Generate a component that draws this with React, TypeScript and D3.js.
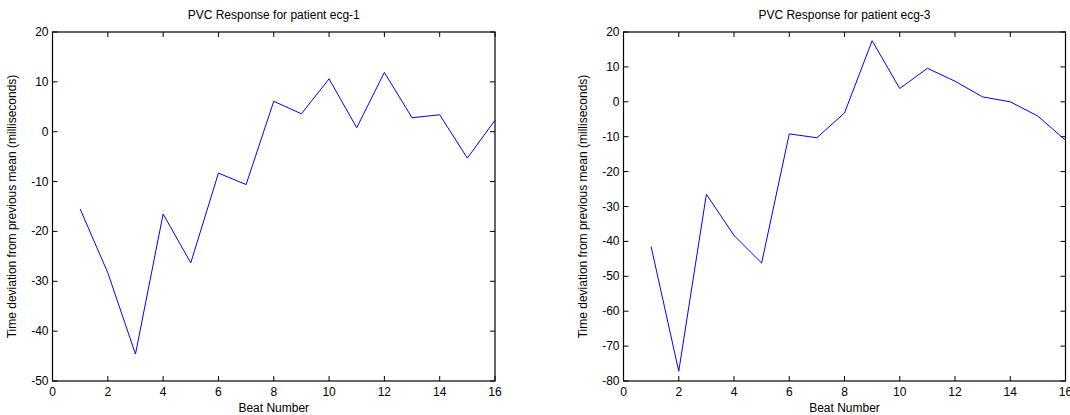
import React from "react";
import * as d3 from "d3";

const beats = [1, 2, 3, 4, 5, 6, 7, 8, 9, 10, 11, 12, 13, 14, 15, 16];
const ecg1 = [-15.5, -28.3, -44.6, -16.5, -26.3, -8.3, -10.6, 6.1, 3.6, 10.6, 0.8, 11.9, 2.8, 3.4, -5.3, 2.3];
const ecg3 = [-41.5, -77.2, -26.5, -38.3, -46.2, -9.2, -10.3, -3.2, 17.5, 3.8, 9.6, 5.9, 1.4, 0, -4.1, -11];
const xTicks = [0, 2, 4, 6, 8, 10, 12, 14, 16];
const yTicks1 = [-50, -40, -30, -20, -10, 0, 10, 20];
const yTicks3 = [-80, -70, -60, -50, -40, -30, -20, -10, 0, 10, 20];

const FONT = "Liberation Sans, Arial, sans-serif";

function Panel({ left, right, top, bottom, values, yDomain, yTicks, title }: any) {
  const x = d3.scaleLinear().domain([0, 16]).range([left, right]);
  const y = d3.scaleLinear().domain(yDomain).range([bottom, top]);
  const line = d3.line<number>().x((_, i) => x(beats[i])).y((d) => y(d));
  const tl = 5;
  const cx = (left + right) / 2;
  return (
    <g>
      <text x={cx} y={top - 13} textAnchor="middle" fontFamily={FONT} fontSize={12} fill="#000">{title}</text>
      <path d={line(values) || ""} fill="none" stroke="#0000ff" strokeWidth={1} />
      {xTicks.map((t) => (
        <g key={"x" + t}>
          <line x1={x(t)} x2={x(t)} y1={bottom} y2={bottom - tl} stroke="#000" />
          <line x1={x(t)} x2={x(t)} y1={top} y2={top + tl} stroke="#000" />
          <text x={x(t)} y={bottom + 15} textAnchor="middle" fontFamily={FONT} fontSize={12} fill="#000">{t}</text>
        </g>
      ))}
      {yTicks.map((t: number) => (
        <g key={"y" + t}>
          <line x1={left} x2={left + tl} y1={y(t)} y2={y(t)} stroke="#000" />
          <line x1={right} x2={right - tl} y1={y(t)} y2={y(t)} stroke="#000" />
          <text x={left - 4} y={y(t) + 4} textAnchor="end" fontFamily={FONT} fontSize={12} fill="#000">{t}</text>
        </g>
      ))}
      <rect x={left} y={top} width={right - left} height={bottom - top} fill="none" stroke="#000" strokeWidth={1.2} />
      <text x={cx} y={bottom + 31} textAnchor="middle" fontFamily={FONT} fontSize={12} fill="#000">Beat Number</text>
      <text transform={`translate(${left - 37},${(top + bottom) / 2}) rotate(-90)`} textAnchor="middle" fontFamily={FONT} fontSize={12} fill="#000">Time deviation from previous mean (milliseconds)</text>
    </g>
  );
}

export default function App() {
  return (
    <svg width={1070} height={415} style={{ position: "absolute", left: 0, top: 0, background: "#fff" }}>
      <rect width={1070} height={415} fill="#fff" />
      <Panel left={52.5} right={495} top={32} bottom={381} values={ecg1} yDomain={[-50, 20]} yTicks={yTicks1} title="PVC Response for patient ecg-1" />
      <Panel left={623.5} right={1065.5} top={32} bottom={381} values={ecg3} yDomain={[-80, 20]} yTicks={yTicks3} title="PVC Response for patient ecg-3" />
    </svg>
  );
}
